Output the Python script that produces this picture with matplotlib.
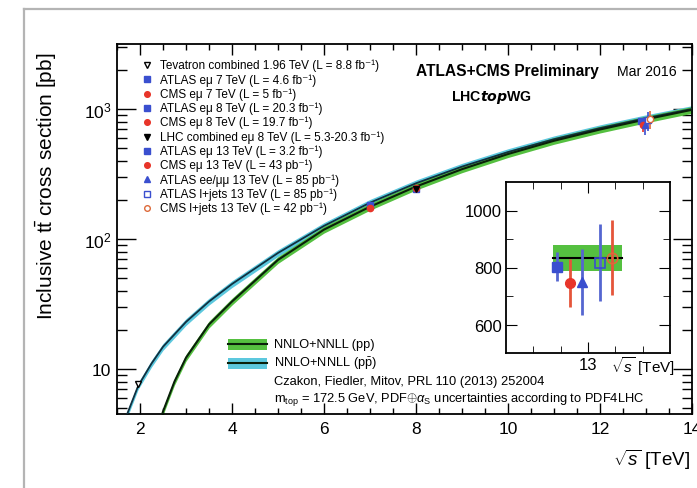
import matplotlib
matplotlib.use("Agg")
import matplotlib.pyplot as plt
from matplotlib.lines import Line2D
from matplotlib.patches import Rectangle
from matplotlib.ticker import MultipleLocator, FixedLocator, LogLocator, NullFormatter, FixedFormatter

plt.rcParams['font.family'] = ['Liberation Sans', 'DejaVu Sans']
plt.rcParams['mathtext.fontset'] = 'custom'
plt.rcParams['mathtext.rm'] = 'Liberation Sans'
plt.rcParams['mathtext.it'] = 'Liberation Sans:italic'
plt.rcParams['mathtext.bf'] = 'Liberation Sans:bold'

# ---------------- data ----------------
pp_energy = [2.4, 2.5, 2.75, 3.0, 3.5, 4.0, 5.0, 6.0, 7.0, 8.0, 9.0, 10.0, 11.0, 12.0, 13.0, 14.0]
pp_sigma = [3.6, 4.7, 8.0, 12.2, 22.0, 33.0, 69.0, 118.0, 177.0, 253.0, 344.0, 450.0, 569.0, 695.0, 832.0, 985.0]
ppbar_energy = [1.6, 1.7, 1.96, 2.25, 2.5, 3.0, 3.5, 4.0, 5.0, 6.0, 7.0, 8.0, 9.0, 10.0, 11.0, 12.0, 13.0, 14.0]
ppbar_sigma = [3.2, 4.3, 7.4, 11.0, 14.8, 23.0, 33.0, 45.0, 78.0, 126.0, 190.0, 268.0, 360.0, 466.0, 585.0, 712.0, 850.0, 1000.0]
theory_rel_unc = 0.06

labels = [
    "Tevatron combined 1.96 TeV (L = 8.8 fb⁻¹)",
    "ATLAS eμ 7 TeV (L = 4.6 fb⁻¹)",
    "CMS eμ 7 TeV (L = 5 fb⁻¹)",
    "ATLAS eμ 8 TeV (L = 20.3 fb⁻¹)",
    "CMS eμ 8 TeV (L = 19.7 fb⁻¹)",
    "LHC combined eμ 8 TeV (L = 5.3-20.3 fb⁻¹)",
    "ATLAS eμ 13 TeV (L = 3.2 fb⁻¹)",
    "CMS eμ 13 TeV (L = 43 pb⁻¹)",
    "ATLAS ee/μμ 13 TeV (L = 85 pb⁻¹)",
    "ATLAS l+jets 13 TeV (L = 85 pb⁻¹)",
    "CMS l+jets 13 TeV (L = 42 pb⁻¹)",
]
meas_energy = [1.96, 7.0, 7.0, 8.0, 8.0, 8.0, 12.886, 12.934, 12.978, 13.044, 13.088]
meas_sigma = [7.60, 182.9, 173.6, 242.4, 244.9, 241.5, 803.0, 746.0, 749.0, 817.0, 835.0]
meas_err = [0.41, 7.1, 6.3, 9.5, 9.3, 8.5, 52.0, 85.0, 115.0, 135.0, 132.0]

inset_theory = 832.0
inset_theory_lo = 786.0
inset_theory_hi = 878.0

# ---------------- styles ----------------
BLUE = '#3a4fcf'
BLUE_BAR = '#5566d0'
RED = '#e8352a'
RED_BAR = '#e5553a'
ORANGE = '#dd6a3a'
GREEN = '#55c040'
CYAN = '#5cc8de'
styles = [
    dict(marker='v', mfc='white', mec='black', color='black', ms=5),
    dict(marker='s', mfc=BLUE, mec=BLUE, color=BLUE, ms=4.5),
    dict(marker='o', mfc=RED, mec=RED, color=RED, ms=4.5),
    dict(marker='s', mfc=BLUE, mec=BLUE, color=BLUE, ms=4.5),
    dict(marker='o', mfc=RED, mec=RED, color=RED, ms=4.5),
    dict(marker='v', mfc='black', mec='black', color='black', ms=5),
    dict(marker='s', mfc=BLUE, mec=BLUE, color=BLUE, ms=4.5),
    dict(marker='o', mfc=RED, mec=RED, color=RED, ms=4.5),
    dict(marker='^', mfc=BLUE, mec=BLUE, color=BLUE, ms=5),
    dict(marker='s', mfc='white', mec=BLUE, color=BLUE, ms=4.5),
    dict(marker='o', mfc='white', mec=ORANGE, color=ORANGE, ms=4.5),
]
inset_styles = [
    dict(marker='s', mfc=BLUE, mec=BLUE, ecolor=BLUE_BAR, ms=6.5),
    dict(marker='o', mfc=RED, mec=RED, ecolor=RED_BAR, ms=7),
    dict(marker='^', mfc=BLUE, mec=BLUE, ecolor=BLUE_BAR, ms=7),
    dict(marker='s', mfc='none', mec=BLUE, ecolor=BLUE_BAR, ms=7, mew=1.2),
    dict(marker='o', mfc='none', mec=ORANGE, ecolor=RED_BAR, ms=7.5, mew=1.2),
]

W, H = 697, 489
fig = plt.figure(figsize=(W / 100, H / 100), dpi=100)

def fx(px):
    return px / W

def fy(py):
    return 1 - py / H

# photo frame lines
fig.add_artist(Line2D([fx(24), fx(24)], [0, fy(10)], color='#b4b4b4', lw=1.6))
fig.add_artist(Line2D([fx(24), 1], [fy(10), fy(10)], color='#b4b4b4', lw=1.6))

ax = fig.add_axes([fx(117), fy(415), fx(692 - 117), (415 - 45) / H])
ax.set_yscale('log')
ax.set_xlim(1.5, 14.0)
ax.set_ylim(4.5, 3160)

# theory bands
ppbar_lo = [s * (1 - theory_rel_unc) for s in ppbar_sigma]
ppbar_hi = [s * (1 + theory_rel_unc) for s in ppbar_sigma]
pp_lo = [s * (1 - theory_rel_unc) for s in pp_sigma]
pp_hi = [s * (1 + theory_rel_unc) for s in pp_sigma]
ax.fill_between(ppbar_energy, ppbar_lo, ppbar_hi, color=CYAN, lw=0, zorder=2)
ax.fill_between(pp_energy, pp_lo, pp_hi, color=GREEN, lw=0, zorder=2)
ax.plot(ppbar_energy, ppbar_sigma, color='#103040', lw=1.3, zorder=3)
ax.plot(pp_energy, pp_sigma, color='#0a200a', lw=1.5, zorder=3)

# measurements
for e, s, err, st in zip(meas_energy, meas_sigma, meas_err, styles):
    ax.errorbar([e], [s], yerr=[err], fmt=st['marker'], mfc=st['mfc'], mec=st['mec'],
                ecolor=st['color'], ms=st['ms'], elinewidth=1.2, capsize=0, zorder=5)

# ticks
ax.xaxis.set_major_locator(FixedLocator([2, 4, 6, 8, 10, 12, 14]))
ax.xaxis.set_minor_locator(MultipleLocator(0.5))
ax.yaxis.set_major_locator(FixedLocator([10, 100, 1000]))
ax.yaxis.set_major_formatter(FixedFormatter(['10', r'$10^{2}$', r'$10^{3}$']))
ax.yaxis.set_minor_locator(LogLocator(base=10, subs=range(2, 10)))
ax.yaxis.set_minor_formatter(NullFormatter())
ax.tick_params(which='both', direction='in', top=True, right=True, width=1.0, labelsize=12.5)
ax.tick_params(axis='x', which='major', length=8, pad=5)
ax.tick_params(axis='x', which='minor', length=4)
ax.tick_params(axis='y', which='major', length=14, pad=4)
ax.tick_params(axis='y', which='minor', length=7)
for sp in ax.spines.values():
    sp.set_linewidth(1.3)

fig.text(fx(46), fy(186), r"Inclusive $\mathrm{t\bar{t}}$ cross section [pb]", rotation=90,
         ha='center', va='center', fontsize=15)
fig.text(fx(690), fy(460), r"$\sqrt{s}$ [TeV]", ha='right', va='center', fontsize=13.5)

# legend of measurements (manual)
def axx(px):
    return (px - 117) / (692 - 117)

def axy(py):
    return (415 - py) / (415 - 45)

for i, (lab, st) in enumerate(zip(labels, styles)):
    yy = axy(66 + 14.3 * i)
    ax.plot([axx(147)], [yy], marker=st['marker'], mfc=st['mfc'], mec=st['mec'],
            ms=st['ms'] * 0.9, ls='none', transform=ax.transAxes, clip_on=False, zorder=6)
    ax.text(axx(160), yy, lab, transform=ax.transAxes, ha='left', va='center', fontsize=8.5)

ax.text(axx(507), axy(72), "ATLAS+CMS Preliminary", transform=ax.transAxes, ha='center',
        va='center', fontsize=11.2, fontweight='bold')
ax.text(axx(647), axy(72), "Mar 2016", transform=ax.transAxes, ha='center', va='center', fontsize=10.2)
ax.text(axx(492), axy(98), r"$\mathbf{LHC}\boldsymbol{top}\mathbf{WG}$", transform=ax.transAxes,
        ha='center', va='center', fontsize=10.2)

# theory legend
for yc, col in [(345, GREEN), (364, CYAN)]:
    ax.add_patch(Rectangle((axx(228), axy(yc + 5.5)), axx(267) - axx(228), 11 / 370,
                           transform=ax.transAxes, color=col, lw=0, zorder=6))
    ax.plot([axx(228), axx(267)], [axy(yc), axy(yc)], color='#0a200a', lw=1.5,
            transform=ax.transAxes, zorder=7)
ax.text(axx(274), axy(345), "NNLO+NNLL (pp)", transform=ax.transAxes, va='center', fontsize=9.2)
ax.text(axx(274), axy(364), r"NNLO+NNLL (p$\mathrm{\bar{p}}$)", transform=ax.transAxes, va='center', fontsize=9.2)
ax.text(axx(274), axy(382), "Czakon, Fiedler, Mitov, PRL 110 (2013) 252004", transform=ax.transAxes,
        va='center', fontsize=9.3)
ax.text(axx(274), axy(400), r"m$_{\rm top}$ = 172.5 GeV, PDF$\oplus\alpha_{\rm S}$ uncertainties according to PDF4LHC",
        transform=ax.transAxes, va='center', fontsize=9.3)

# ---------------- inset ----------------
ai = fig.add_axes([fx(506), fy(354), fx(670 - 506), (354 - 183) / H])
ai.set_xlim(12.7, 13.3)
ai.set_ylim(500, 1100)
ai.add_patch(Rectangle((12.872, inset_theory_lo), 13.125 - 12.872, inset_theory_hi - inset_theory_lo,
                       color=GREEN, lw=0, zorder=1))
ai.plot([12.872, 13.125], [inset_theory, inset_theory], color='black', lw=1.5, zorder=2)
for e, s, err, st in zip(meas_energy[6:], meas_sigma[6:], meas_err[6:], inset_styles):
    ai.errorbar([e], [s], yerr=[err], fmt=st['marker'], mfc=st['mfc'], mec=st['mec'],
                mew=st.get('mew', 1.0), ecolor=st['ecolor'], ms=st['ms'], elinewidth=2.0,
                capsize=0, zorder=4)
ai.xaxis.set_major_locator(FixedLocator([13]))
ai.xaxis.set_major_formatter(FixedFormatter(['13']))
ai.xaxis.set_minor_locator(FixedLocator([12.8, 12.9, 13.1, 13.2]))
ai.yaxis.set_major_locator(FixedLocator([600, 800, 1000]))
ai.yaxis.set_minor_locator(FixedLocator([700, 900]))
ai.tick_params(which='both', direction='in', top=True, right=True, labelsize=12)
ai.tick_params(which='major', length=8, pad=3)
ai.tick_params(which='minor', length=5)
for sp in ai.spines.values():
    sp.set_linewidth(1.3)
fig.text(fx(643), fy(367), r"$\sqrt{s}$ [TeV]", ha='center', va='center', fontsize=11)

fig.savefig("out.png", dpi=100)
